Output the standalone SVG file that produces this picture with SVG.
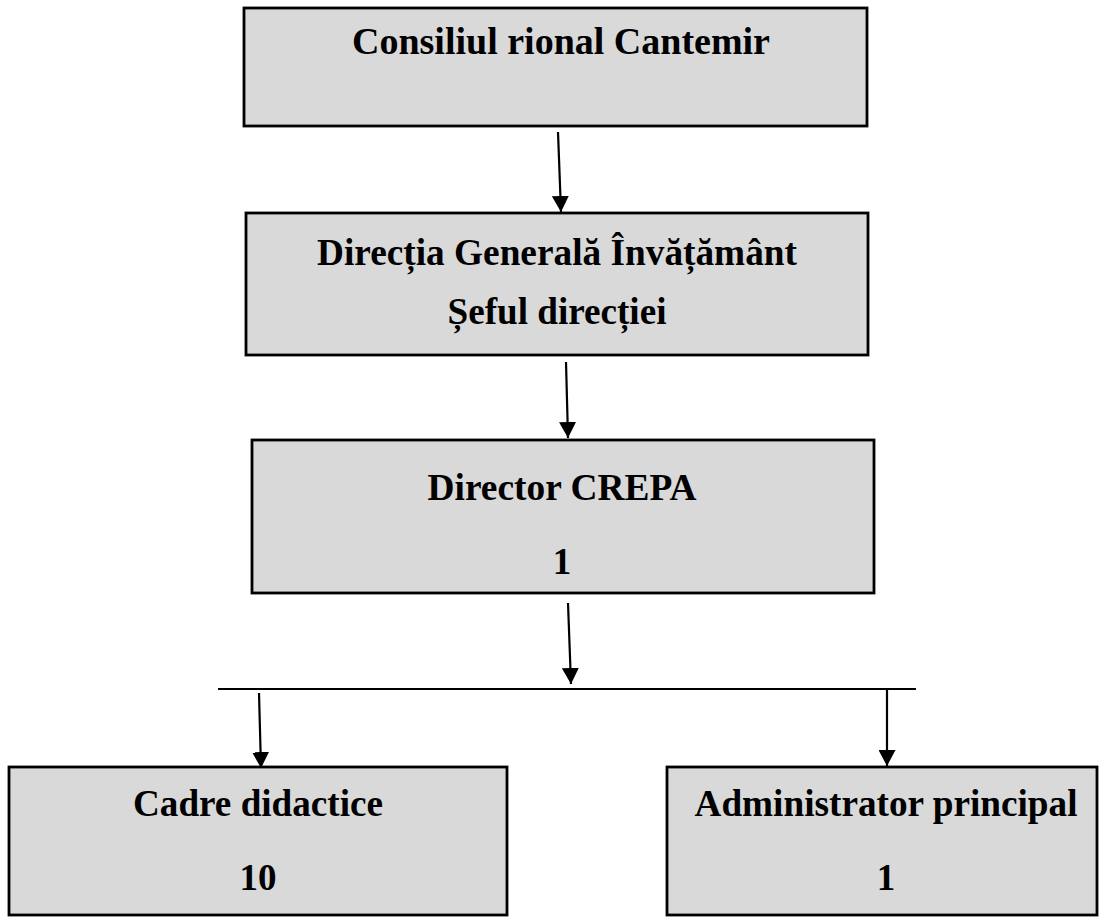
<svg xmlns="http://www.w3.org/2000/svg" width="1100" height="917" viewBox="0 0 1100 917">
<style>
.box{fill:#d9d9d9;stroke:#000;stroke-width:2.8}
.t{font-family:"Liberation Serif","Times New Roman",serif;font-weight:bold;font-size:37px;fill:#000;text-anchor:middle}
.c{stroke:#000;stroke-width:2.2;fill:none}
</style>
<defs>
<marker id="ah" markerWidth="16" markerHeight="17" refX="16" refY="8.5" orient="auto" markerUnits="userSpaceOnUse" viewBox="0 0 16 17">
<path d="M0,0 L16,8.5 L0,17 Z" fill="#000"/>
</marker>
</defs>
<rect width="1100" height="917" fill="#fff"/>
<g id="n1"><rect class="box" x="244" y="8" width="623" height="118"/><text class="t" x="561" y="54" textLength="418" lengthAdjust="spacingAndGlyphs">Consiliul rional Cantemir</text></g>
<g id="n2"><rect class="box" x="246" y="213" width="622" height="142"/><text class="t" x="557" y="265" textLength="480" lengthAdjust="spacingAndGlyphs">Direcția Generală Învățământ</text><text class="t" x="557" y="324" textLength="219" lengthAdjust="spacingAndGlyphs">Șeful direcției</text></g>
<g id="n3"><rect class="box" x="252" y="440" width="622" height="153"/><text class="t" x="562" y="500" textLength="269" lengthAdjust="spacingAndGlyphs">Director CREPA</text><text class="t" x="562" y="574">1</text></g>
<g id="n4"><rect class="box" x="9" y="767" width="498" height="148"/><text class="t" x="258" y="816" textLength="250" lengthAdjust="spacingAndGlyphs">Cadre didactice</text><text class="t" x="258" y="890">10</text></g>
<g id="n5"><rect class="box" x="667" y="767" width="430" height="148"/><text class="t" x="886" y="816" textLength="383" lengthAdjust="spacingAndGlyphs">Administrator principal</text><text class="t" x="886" y="890">1</text></g>
<g id="connectors">
<path class="c" d="M558,132 L561,212" marker-end="url(#ah)"/>
<path class="c" d="M566,362 L568,438" marker-end="url(#ah)"/>
<path class="c" d="M568,603 L571,684" marker-end="url(#ah)"/>
<path class="c" d="M218,689 L916,689"/>
<path class="c" d="M259,693 L261,768" marker-end="url(#ah)"/>
<path class="c" d="M887,688 L887,766" marker-end="url(#ah)"/>
</g>
</svg>
